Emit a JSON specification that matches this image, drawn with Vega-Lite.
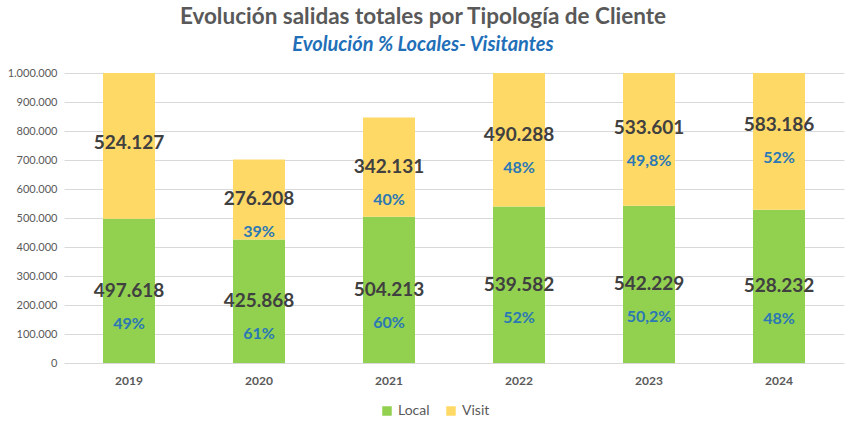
{
  "$schema": "https://vega.github.io/schema/vega-lite/v6.json",
  "width": 780,
  "height": 290,
  "autosize": "none",
  "padding": {"left": 64, "top": 73, "right": 3, "bottom": 69},
  "config": {
    "locale": {
      "number": {"decimal": ",", "thousands": ".", "grouping": [3], "currency": ["", " €"]}
    },
    "view": {"stroke": null},
    "font": "Lato",
    "axisY": {
      "format": ",d",
      "values": [0, 100000, 200000, 300000, 400000, 500000, 600000, 700000, 800000, 900000, 1000000],
      "labelOverlap": false,
      "labelFontSize": 11,
      "labelColor": "#595959",
      "labelPadding": 7,
      "ticks": false,
      "domain": false,
      "gridColor": "#D9D9D9",
      "gridWidth": 1
    }
  },
  "title": {
    "text": "Evolución salidas totales por Tipología de Cliente",
    "subtitle": "Evolución % Locales- Visitantes",
    "anchor": "middle",
    "frame": "group",
    "dx": -31,
    "offset": 12,
    "fontSize": 22.5,
    "fontWeight": "bold",
    "color": "#595959",
    "subtitleFontSize": 20,
    "subtitleFontStyle": "italic",
    "subtitleFontWeight": "bold",
    "subtitleColor": "#1F70B8",
    "subtitlePadding": 7
  },
  "data": {
    "values": [
      {"year": "2019", "type": "Local", "value": 497618, "pct": "49%"},
      {"year": "2019", "type": "Visit", "value": 524127, "pct": ""},
      {"year": "2020", "type": "Local", "value": 425868, "pct": "61%"},
      {"year": "2020", "type": "Visit", "value": 276208, "pct": "39%"},
      {"year": "2021", "type": "Local", "value": 504213, "pct": "60%"},
      {"year": "2021", "type": "Visit", "value": 342131, "pct": "40%"},
      {"year": "2022", "type": "Local", "value": 539582, "pct": "52%"},
      {"year": "2022", "type": "Visit", "value": 490288, "pct": "48%"},
      {"year": "2023", "type": "Local", "value": 542229, "pct": "50,2%"},
      {"year": "2023", "type": "Visit", "value": 533601, "pct": "49,8%"},
      {"year": "2024", "type": "Local", "value": 528232, "pct": "48%"},
      {"year": "2024", "type": "Visit", "value": 583186, "pct": "52%"}
    ]
  },
  "transform": [
    {"stack": "value", "groupby": ["year"], "sort": [{"field": "type", "order": "ascending"}], "as": ["v0", "v1"]},
    {"calculate": "(datum.v0 + datum.v1) / 2", "as": "mid"}
  ],
  "encoding": {
    "x": {
      "field": "year",
      "type": "nominal",
      "title": null,
      "scale": {"paddingInner": 0.6, "paddingOuter": 0.3},
      "axis": {
        "labelAngle": 0,
        "labelFontSize": 12,
        "labelFontWeight": "bold",
        "labelColor": "#595959",
        "labelPadding": 12,
        "ticks": false,
        "domain": false
      }
    }
  },
  "layer": [
    {
      "mark": {"type": "bar", "clip": true},
      "encoding": {
        "y": {
          "field": "v0",
          "type": "quantitative",
          "title": null,
          "scale": {"domain": [0, 1000000], "nice": false}
        },
        "y2": {"field": "v1"},
        "color": {
          "field": "type",
          "type": "nominal",
          "scale": {"domain": ["Local", "Visit"], "range": ["#92D050", "#FFD966"]},
          "legend": {
            "title": null,
            "orient": "none",
            "direction": "horizontal",
            "legendX": 316,
            "legendY": 331,
            "symbolType": "square",
            "symbolSize": 90,
            "symbolStrokeWidth": 0,
            "labelFontSize": 14,
            "labelColor": "#595959",
            "columnPadding": 14
          }
        }
      }
    },
    {
      "mark": {"type": "text", "fontSize": 19, "fontWeight": "bold", "color": "#404040", "baseline": "middle"},
      "encoding": {
        "y": {"field": "mid", "type": "quantitative", "title": null},
        "text": {"field": "value", "type": "quantitative", "format": ",d"}
      }
    },
    {
      "mark": {"type": "text", "fontSize": 16, "fontWeight": "bold", "color": "#2A78B5", "baseline": "middle", "dy": 33},
      "encoding": {
        "y": {"field": "mid", "type": "quantitative", "title": null},
        "text": {"field": "pct", "type": "nominal"}
      }
    }
  ]
}
